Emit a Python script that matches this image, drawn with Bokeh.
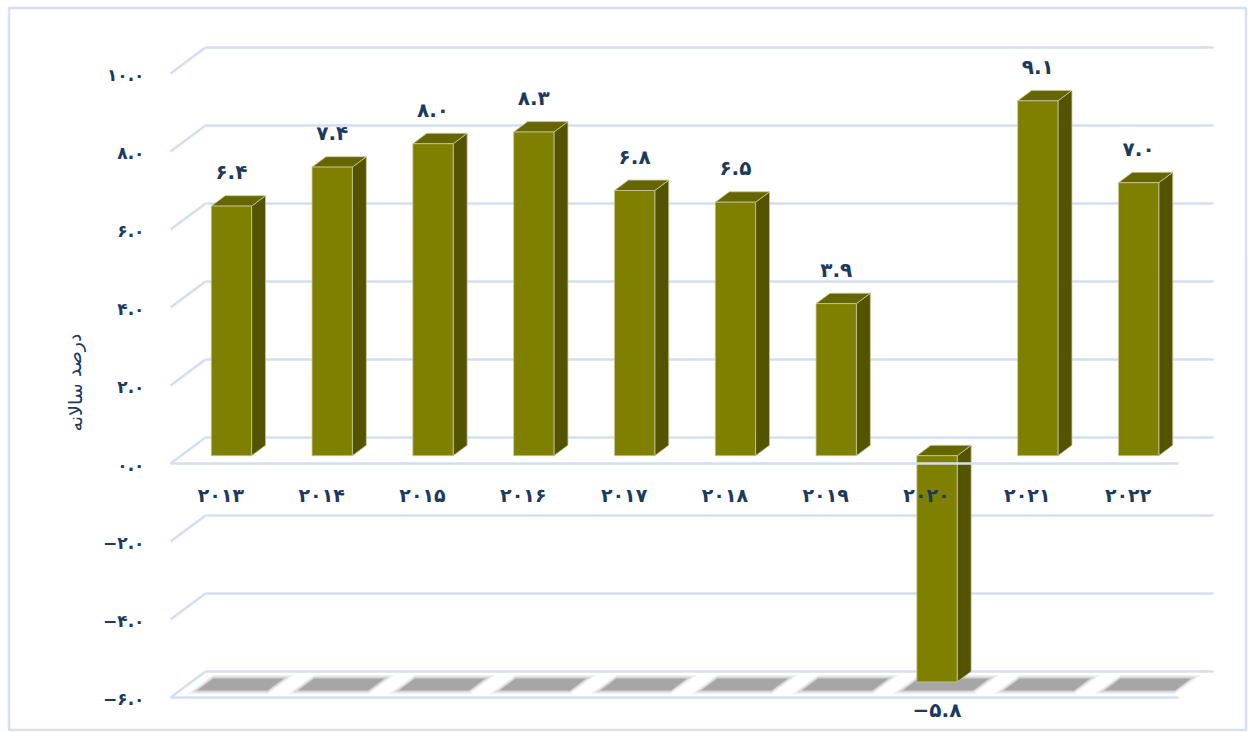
from bokeh.plotting import figure
from bokeh.models import Range1d
from bokeh.core.properties import value
from bokeh.embed import file_html
from bokeh.resources import INLINE

# ---------------- data ----------------
years = ["2013", "2014", "2015", "2016", "2017", "2018", "2019", "2020", "2021", "2022"]
growth = [6.4, 7.4, 8.0, 8.3, 6.8, 6.5, 3.9, -5.8, 9.1, 7.0]
y_ticks = [-6, -4, -2, 0, 2, 4, 6, 8, 10]
axis_title = "درصد سالانه"

FA = str.maketrans("0123456789-", "۰۱۲۳۴۵۶۷۸۹−")


def fa(s):
    return s.translate(FA)


year_labels = [fa(y) for y in years]
tick_labels = [fa(f"{t:.1f}") for t in y_ticks]
value_labels = [fa(f"{v:.1f}") for v in growth]

# ---------------- geometry (3D projection) ----------------
PXC = 100.8   # px per category
PXU = 39.0    # px per unit
X0, Y0 = 170.0, 463.0   # canvas px of front-plane origin
DX, DY = 35.0 / PXC, 26.0 / PXU   # full-depth offset in data units
D0, D1 = 0.3, 0.7       # bar depth extent
HALF = 0.2              # bar half width
n = len(years)
ymin, ymax = min(y_ticks), max(y_ticks)


def cx(px):
    return (px - X0) / PXC


def cy(py):
    return (Y0 - py) / PXU


W, H = 1250, 731
p = figure(width=W, height=H, output_backend="svg", toolbar_location=None,
           x_axis_type=None, y_axis_type=None, min_border=0,
           x_range=Range1d(cx(0), cx(W)), y_range=Range1d(cy(H), cy(0)))
p.outline_line_color = None
p.background_fill_color = "white"
p.border_fill_color = "white"

GRID = "#d3dff0"
TXT = "#1b3a5e"
FONT = value("DejaVu Sans")

# chart area border
p.quad(left=[cx(8.5)], right=[cx(1245.5)], top=[cy(7.5)], bottom=[cy(729.5)],
       fill_alpha=0, line_color="#d5e0f0", line_width=2.5)

# back wall grid lines + left wall diagonals
xs, ys = [], []
for t in y_ticks:
    xs.append([DX, n + DX]); ys.append([t + DY, t + DY])
    xs.append([0, DX]); ys.append([t, t + DY])
# floor front edge at minimum
xs.append([0, n]); ys.append([ymin, ymin])
p.multi_line(xs, ys, line_color=GRID, line_width=2.5)

# shadows on the floor
for (ex, ed, a, c) in [(0.05, 0.14, 0.22, "#b4b4b4"), (0.025, 0.07, 0.4, "#acacac"), (0.0, 0.0, 1.0, "#a6a6a6")]:
    sx, sy = [], []
    for i in range(n):
        l, r = i + 0.17 - ex, i + 0.87 + ex
        da, db = max(0.27 - ed, 0.0), 0.73 + ed
        sx.append([l + da * DX, r + da * DX, r + db * DX, l + db * DX])
        sy.append([ymin + da * DY, ymin + da * DY, ymin + db * DY, ymin + db * DY])
    p.patches(sx, sy, fill_color=c, fill_alpha=a, line_alpha=0)

# bars
s0, t0, s1, t1 = D0 * DX, D0 * DY, D1 * DX, D1 * DY
fx, fy, tx, ty, sx, sy = [], [], [], [], [], []
for i, v in enumerate(growth):
    xl, xr = i + 0.5 - HALF, i + 0.5 + HALF
    lo, hi = min(v, 0), max(v, 0)
    fx.append([xl + s0, xr + s0, xr + s0, xl + s0]); fy.append([lo + t0, lo + t0, hi + t0, hi + t0])
    tx.append([xl + s0, xr + s0, xr + s1, xl + s1]); ty.append([hi + t0, hi + t0, hi + t1, hi + t1])
    sx.append([xr + s0, xr + s1, xr + s1, xr + s0]); sy.append([lo + t0, lo + t1, hi + t1, hi + t0])
p.patches(sx, sy, fill_color="#545400", line_color="#c8c89c", line_width=0.8)
p.patches(tx, ty, fill_color="#666600", line_color="#c8c89c", line_width=0.8)
p.patches(fx, fy, fill_color="#808000", line_color="#c8c89c", line_width=0.8)

# front edge of the zero floor (category axis line) over the bars
p.line([0, n], [0, 0], line_color=GRID, line_width=2.5)

# category labels
p.text(x=[i + 0.5 for i in range(n)], y=[cy(494)] * n, text=year_labels,
       text_font=FONT, text_font_style="bold", text_font_size="19px",
       text_color=TXT, text_align="center", text_baseline="middle")

# value tick labels
p.text(x=[cx(144)] * len(y_ticks), y=[t - 1.5 / PXU for t in y_ticks], text=tick_labels,
       text_font=FONT, text_font_style="bold", text_font_size="17px",
       text_color=TXT, text_align="right", text_baseline="middle")

# data labels
lx = [i + 0.5 + s0 for i in range(n)]
ly = [(v + t0 + 34.0 / PXU) if v >= 0 else (v + t0 - 28.0 / PXU) for v in growth]
p.text(x=lx, y=ly, text=value_labels,
       text_font=FONT, text_font_style="bold", text_font_size="20px",
       text_color=TXT, text_align="center", text_baseline="middle")

# axis title
p.text(x=[cx(74)], y=[cy(382)], text=[axis_title], angle=1.5708,
       text_font=FONT, text_font_style="normal", text_font_size="19px",
       text_color=TXT, text_align="center", text_baseline="middle")

open("out.html", "w").write(file_html(p, INLINE))
